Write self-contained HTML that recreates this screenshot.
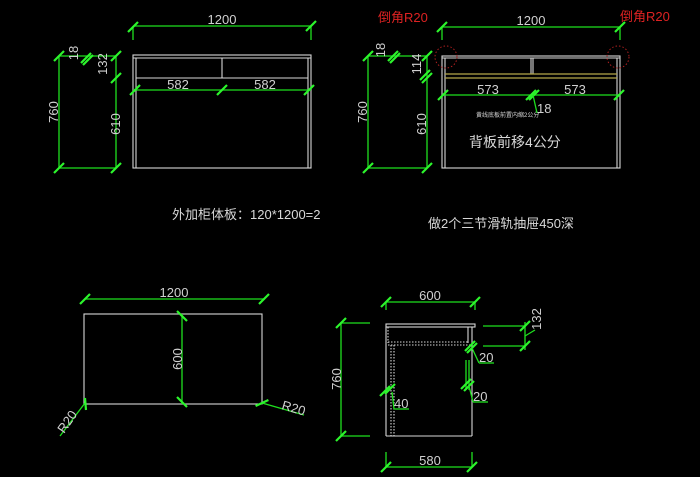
<!DOCTYPE html>
<html><head><meta charset="utf-8"><style>
html,body{margin:0;padding:0;background:#000;}
svg{display:block}
text{font-family:"Liberation Sans","Noto Sans CJK SC",sans-serif;}
.g{stroke:#1ee01e;stroke-width:1.3;fill:none}
.t{stroke:#2cf52c;stroke-width:2.2;fill:none}
.w{stroke:#d8d8d8;stroke-width:1.1;fill:none}
.d{stroke:#d8d8d8;stroke-width:1.1;fill:none;stroke-dasharray:1.5 1.5}
.y{stroke:#b5a84a;stroke-width:1.3;fill:none}
.r{stroke:#b02020;stroke-width:1;fill:none;stroke-dasharray:1.5 2}
.lt{fill:#d0d0d0;font-size:13px}
.ct{fill:#d8d8d8;font-size:13px}
.rd{fill:#d22;font-size:13px}
</style></head><body>
<svg width="700" height="477" viewBox="0 0 700 477" xmlns="http://www.w3.org/2000/svg">
<rect width="700" height="477" fill="#000"/>
<defs>
<path id="tk" d="M-5 5 L5 -5" class="t"/>
</defs>

<!-- ===== Top-left view ===== -->
<line class="g" x1="133" y1="26" x2="311" y2="26"/>
<line class="g" x1="133" y1="26" x2="133" y2="40"/>
<line class="g" x1="311" y1="26" x2="311" y2="40"/>
<use href="#tk" x="133" y="27"/><use href="#tk" x="311" y="26"/>
<text class="lt" x="222" y="24" text-anchor="middle">1200</text>

<rect class="w" x="133" y="55" width="178" height="113"/>
<line class="w" x1="133" y1="58" x2="311" y2="58"/>
<line class="w" x1="136" y1="58" x2="136" y2="168"/>
<line class="w" x1="308" y1="58" x2="308" y2="168"/>
<line class="w" x1="136" y1="78" x2="308" y2="78"/>
<line class="w" x1="222" y1="58" x2="222" y2="78"/>
<line class="g" x1="133" y1="90" x2="311" y2="90"/>
<use href="#tk" x="135" y="90"/><use href="#tk" x="222" y="90"/><use href="#tk" x="309" y="90"/>
<text class="lt" x="178" y="89" text-anchor="middle">582</text>
<text class="lt" x="265" y="89" text-anchor="middle">582</text>

<line class="g" x1="59" y1="56" x2="59" y2="168"/>
<line class="g" x1="116" y1="56" x2="116" y2="168"/>
<line class="g" x1="59" y1="56" x2="116" y2="56"/>
<line class="g" x1="59" y1="168" x2="116" y2="168"/>
<use href="#tk" x="59" y="56"/><use href="#tk" x="59" y="168"/>
<use href="#tk" x="116" y="56"/><use href="#tk" x="116" y="168"/><use href="#tk" x="116" y="78"/>
<use href="#tk" x="86" y="58"/><use href="#tk" x="88" y="60"/>
<text class="lt" transform="translate(58,112) rotate(-90)" text-anchor="middle">760</text>
<text class="lt" transform="translate(120,124) rotate(-90)" text-anchor="middle">610</text>
<text class="lt" transform="translate(78,53) rotate(-90)" text-anchor="middle">18</text>
<text class="lt" transform="translate(107,64) rotate(-90)" text-anchor="middle">132</text>

<text class="ct" x="172" y="219">外加柜体板：120*1200=2</text>

<!-- ===== Top-right view ===== -->
<text class="rd" x="378" y="22">倒角R20</text>
<text class="rd" x="620" y="21">倒角R20</text>
<line class="g" x1="442" y1="27" x2="620" y2="27"/>
<line class="g" x1="442" y1="27" x2="442" y2="40"/>
<line class="g" x1="620" y1="27" x2="620" y2="40"/>
<use href="#tk" x="442" y="27"/><use href="#tk" x="620" y="27"/>
<text class="lt" x="531" y="25" text-anchor="middle">1200</text>

<rect class="w" x="442" y="56" width="178" height="112"/>
<line class="w" x1="442" y1="58" x2="620" y2="58"/>
<line class="w" x1="445" y1="58" x2="445" y2="168"/>
<line class="w" x1="617" y1="58" x2="617" y2="168"/>
<line class="w" x1="531" y1="58" x2="531" y2="74"/>
<line class="w" x1="533" y1="58" x2="533" y2="74"/>
<line class="y" x1="445" y1="74" x2="617" y2="74"/>
<line class="y" x1="445" y1="78" x2="617" y2="78"/>
<circle class="r" cx="446" cy="57" r="11"/>
<circle class="r" cx="618" cy="57" r="11"/>
<line class="g" x1="442" y1="95" x2="620" y2="95"/>
<use href="#tk" x="443" y="95"/><use href="#tk" x="531" y="95"/><use href="#tk" x="534" y="95"/><use href="#tk" x="619" y="95"/>
<text class="lt" x="488" y="94" text-anchor="middle">573</text>
<text class="lt" x="575" y="94" text-anchor="middle">573</text>
<line class="g" x1="533" y1="95" x2="537" y2="113"/>
<text class="lt" x="537" y="113">18</text>
<text class="ct" x="476" y="117" style="font-size:6px">黄线底板前置内缩2公分</text>
<text class="ct" x="469" y="147" style="font-size:14px">背板前移4公分</text>

<line class="g" x1="368" y1="56" x2="368" y2="168"/>
<line class="g" x1="427" y1="56" x2="427" y2="168"/>
<line class="g" x1="368" y1="56" x2="427" y2="56"/>
<line class="g" x1="368" y1="168" x2="427" y2="168"/>
<use href="#tk" x="368" y="56"/><use href="#tk" x="368" y="168"/>
<use href="#tk" x="427" y="56"/><use href="#tk" x="427" y="168"/>
<use href="#tk" x="425" y="75"/><use href="#tk" x="427" y="78"/>
<use href="#tk" x="393" y="56"/><use href="#tk" x="395" y="58"/>
<text class="lt" transform="translate(367,112) rotate(-90)" text-anchor="middle">760</text>
<text class="lt" transform="translate(426,124) rotate(-90)" text-anchor="middle">610</text>
<text class="lt" transform="translate(385,50) rotate(-90)" text-anchor="middle">18</text>
<text class="lt" transform="translate(421,64) rotate(-90)" text-anchor="middle">114</text>

<text class="ct" x="428" y="228">做2个三节滑轨抽屉450深</text>

<!-- ===== Bottom-left view ===== -->
<line class="g" x1="84" y1="299" x2="265" y2="299"/>
<use href="#tk" x="85" y="299"/><use href="#tk" x="264" y="299"/>
<text class="lt" x="174" y="297" text-anchor="middle">1200</text>
<rect class="w" x="84" y="314" width="178" height="90"/>
<line class="g" x1="182" y1="314" x2="182" y2="404"/>
<use href="#tk" x="182" y="316" transform="rotate(90 182 316)"/>
<use href="#tk" x="182" y="402" transform="rotate(90 182 402)"/>
<text class="lt" transform="translate(182,359) rotate(-90)" text-anchor="middle">600</text>
<line class="g" x1="85" y1="403" x2="60" y2="436"/>
<line class="t" x1="85" y1="398" x2="86" y2="410"/>
<text class="lt" transform="translate(64,434) rotate(-55)">R20</text>
<line class="g" x1="262" y1="403" x2="304" y2="415"/>
<use href="#tk" x="262" y="403" transform="rotate(20 262 403)"/>
<text class="lt" transform="translate(281,409) rotate(16)">R20</text>

<!-- ===== Bottom-right view ===== -->
<line class="g" x1="386" y1="302" x2="475" y2="302"/>
<line class="g" x1="386" y1="302" x2="386" y2="310"/>
<line class="g" x1="475" y1="302" x2="475" y2="310"/>
<use href="#tk" x="386" y="302"/><use href="#tk" x="475" y="302"/>
<text class="lt" x="430" y="300" text-anchor="middle">600</text>

<rect class="w" x="386" y="324" width="89" height="3"/>
<line class="w" x1="386" y1="327" x2="386" y2="436"/>
<line class="w" x1="472" y1="327" x2="472" y2="436"/>
<line class="w" x1="386" y1="436" x2="472" y2="436"/>
<line class="w" x1="468" y1="327" x2="468" y2="343"/>
<line class="d" x1="388" y1="327" x2="388" y2="343"/>
<line class="d" x1="388" y1="342" x2="468" y2="342"/>
<line class="d" x1="388" y1="345" x2="470" y2="345"/>
<line class="d" x1="391" y1="345" x2="391" y2="436"/>
<line class="d" x1="394" y1="345" x2="394" y2="436"/>
<line class="g" x1="466" y1="360" x2="466" y2="390"/>
<line class="g" x1="469" y1="360" x2="469" y2="390"/>

<line class="g" x1="341" y1="322" x2="341" y2="436"/>
<line class="g" x1="341" y1="323" x2="370" y2="323"/>
<line class="g" x1="341" y1="436" x2="370" y2="436"/>
<use href="#tk" x="341" y="323"/><use href="#tk" x="341" y="436"/>
<text class="lt" transform="translate(341,379) rotate(-90)" text-anchor="middle">760</text>

<line class="g" x1="483" y1="326" x2="525" y2="326"/>
<line class="g" x1="483" y1="346" x2="525" y2="346"/>
<line class="g" x1="525" y1="322" x2="525" y2="350"/>
<use href="#tk" x="525" y="326"/><use href="#tk" x="525" y="346"/>
<line class="g" x1="525" y1="336" x2="535" y2="330"/>
<text class="lt" transform="translate(541,319) rotate(-90)" text-anchor="middle">132</text>

<use href="#tk" x="470" y="346"/><use href="#tk" x="472" y="348"/>
<line class="g" x1="472" y1="348" x2="479" y2="363"/>
<line class="g" x1="479" y1="363" x2="494" y2="363"/>
<text class="lt" x="479" y="362">20</text>
<use href="#tk" x="466" y="384"/><use href="#tk" x="469" y="386"/>
<line class="g" x1="469" y1="386" x2="473" y2="402"/>
<line class="g" x1="473" y1="402" x2="488" y2="402"/>
<text class="lt" x="473" y="401">20</text>
<use href="#tk" x="385" y="391"/><use href="#tk" x="390" y="389"/>
<line class="g" x1="392" y1="392" x2="394" y2="409"/>
<line class="g" x1="394" y1="409" x2="409" y2="409"/>
<text class="lt" x="394" y="408">40</text>

<line class="g" x1="386" y1="452" x2="386" y2="467"/>
<line class="g" x1="472" y1="452" x2="472" y2="467"/>
<line class="g" x1="386" y1="467" x2="472" y2="467"/>
<use href="#tk" x="386" y="467"/><use href="#tk" x="472" y="467"/>
<text class="lt" x="430" y="465" text-anchor="middle">580</text>
</svg>
</body></html>
